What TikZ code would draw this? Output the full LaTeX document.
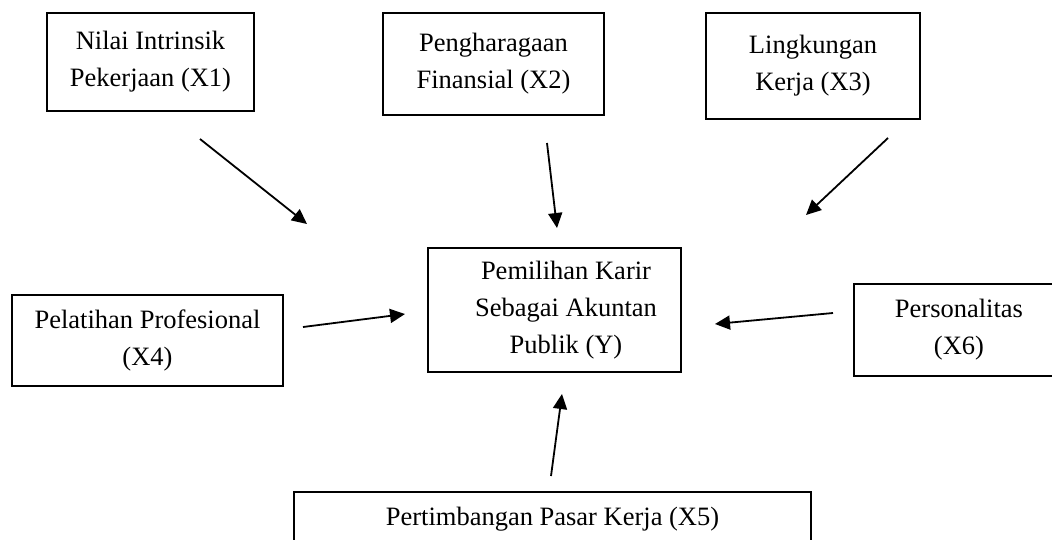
\documentclass[tikz,border=0pt]{standalone}
\usepackage{fontspec}
\setmainfont{Liberation Serif}
\usetikzlibrary{arrows.meta,positioning}

\tikzset{
	var/.style={draw, line width=1.7pt, inner sep=0pt, align=center,
		font=\fontsize{26.5}{37}\selectfont},
	txt/.style={inner sep=0pt, align=center, font=\fontsize{26.5}{37}\selectfont},
	pengaruh/.style={line width=1.8pt, -{Triangle[length=15pt,width=14pt]}}
}

\begin{document}
\begin{tikzpicture}[x=1pt, y=-1pt]
					\useasboundingbox (0,0) rectangle (1052,539);
					\clip (0,0) rectangle (1052,539);

					\node[var, minimum width=207pt, minimum height=98pt]  (x1) at (150.5,62)  {Nilai Intrinsik\\Pekerjaan (X1)};
					\node[var, minimum width=221pt, minimum height=102pt] (x2) at (493.5,64)  {Pengharagaan\\Finansial (X2)};
					\node[var, minimum width=214pt, minimum height=106pt] (x3) at (813,66)    {Lingkungan\\Kerja (X3)};
					\node[var, minimum width=271pt, minimum height=91pt]  (x4) at (147.5,340.5) {Pelatihan Profesional\\(X4)};
					\node[var, minimum width=210pt, minimum height=92pt]  (x6) at (959,330)   {Personalitas\\(X6)};
					\node[var, minimum width=517pt, minimum height=54pt]  (x5) at (552.5,519) {Pertimbangan Pasar Kerja (X5)};
					\node[var, minimum width=253pt, minimum height=124pt,
						label={[txt, xshift=11.5pt]center:Pemilihan Karir\\Sebagai Akuntan\\Publik (Y)}] (y) at (554.5,310) {};

					\coordinate (t1) at (200,139);  \coordinate (h1) at (307,224);
					\coordinate (t2) at (547,143);  \coordinate (h2) at (557,228);
					\coordinate (t3) at (888,138);  \coordinate (h3) at (806,215);
					\coordinate (t4) at (303,327);  \coordinate (h4) at (405,314);
					\coordinate (t6) at (833,313);  \coordinate (h6) at (715,324);
					\coordinate (t5) at (551,476);  \coordinate (h5) at (562,394);

					\draw (t1) edge[pengaruh] (h1)
						(t2) edge[pengaruh] (h2)
						(t3) edge[pengaruh] (h3)
						(t4) edge[pengaruh] (h4)
						(t6) edge[pengaruh] (h6)
						(t5) edge[pengaruh] (h5);
				\end{tikzpicture}
\end{document}
